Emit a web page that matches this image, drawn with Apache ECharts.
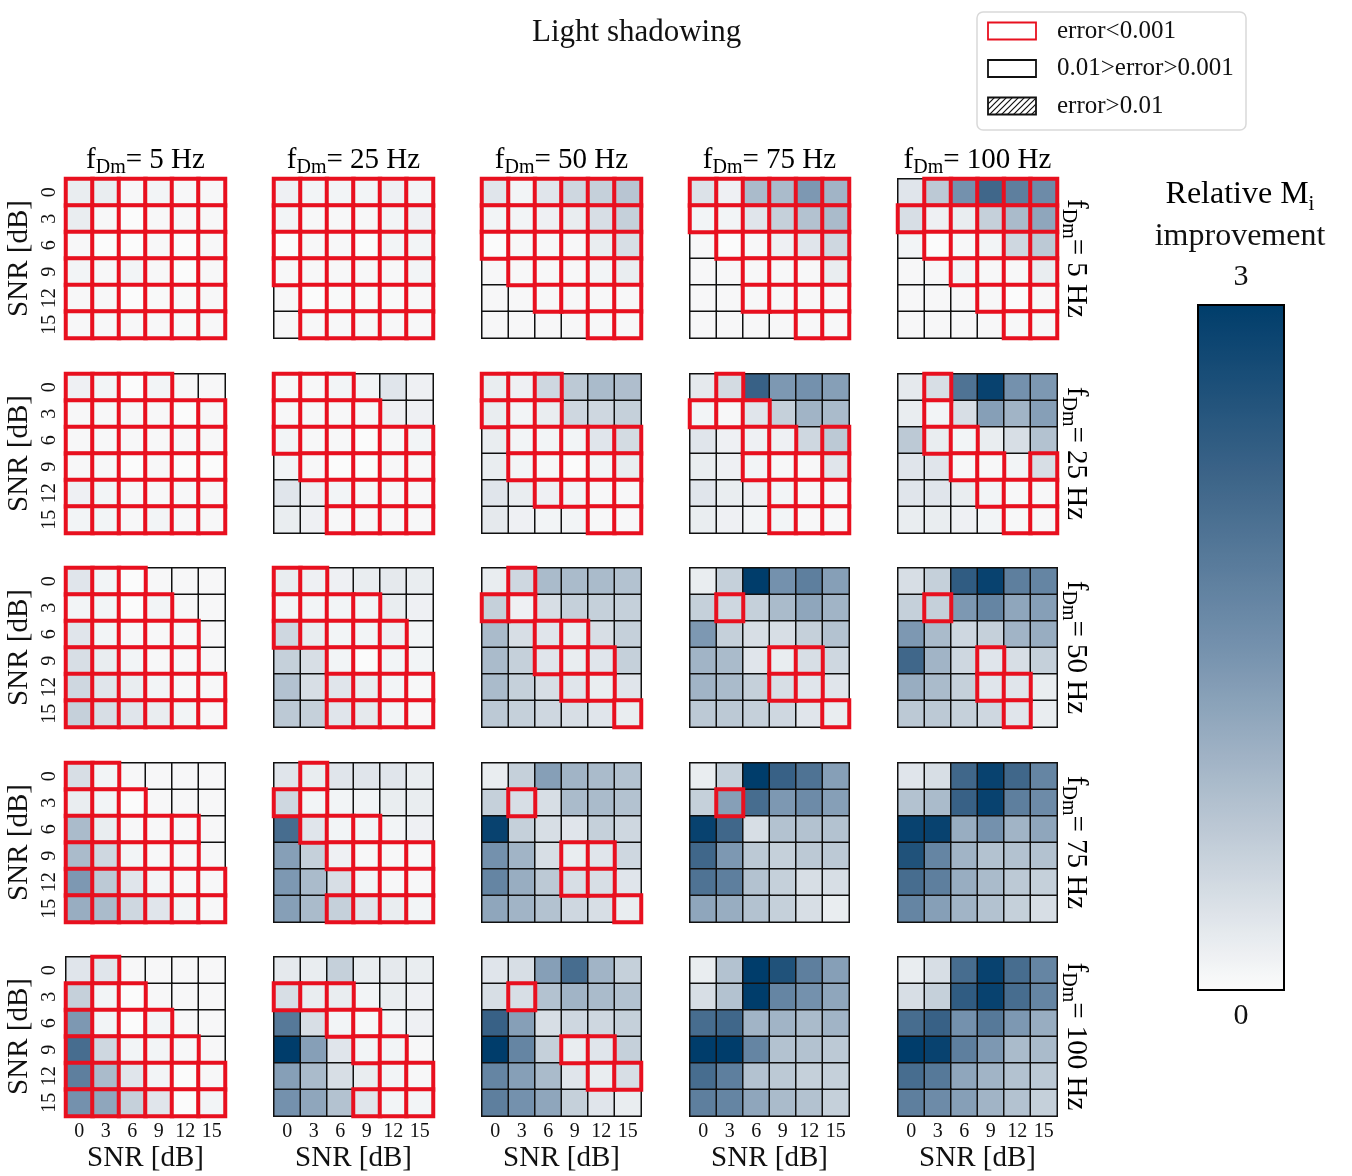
<!DOCTYPE html>
<html>
<head>
<meta charset="utf-8">
<title>Light shadowing</title>
<script src="https://cdn.jsdelivr.net/npm/echarts@6/dist/echarts.min.js"></script>
<style>
  html, body { margin: 0; padding: 0; background: #fff; }
  #main { width: 1352px; height: 1176px; }
</style>
</head>
<body>
<div id="main"></div>
<script>
// SNR tick labels (both axes) and Doppler frequencies of rows / columns
var snrLabels = ['0', '3', '6', '9', '12', '15'];
var fdmList = [5, 25, 50, 75, 100];

// relative Mi improvement, imp_<row fDm>_<column fDm>, rows = SNR 0..15 (top->bottom)
var imp_5_5 = [
  [0.2, 0.2, 0.05, 0.1, 0.05, 0.05],
  [0.2, 0.05, 0, 0.05, 0.05, 0.05],
  [0.05, 0, 0, 0.05, 0, 0.05],
  [0.1, 0.05, 0.1, 0.05, 0, 0.05],
  [0.05, 0.05, 0, 0.03, 0.03, 0.05],
  [0.05, 0.05, 0.05, 0.05, 0.03, 0.05]];
var imp_5_25 = [
  [0.15, 0.1, 0.1, 0.1, 0.15, 0.1],
  [0.1, 0.05, 0.05, 0.05, 0.1, 0.15],
  [0, 0.05, 0.05, 0, 0.1, 0.1],
  [0.05, 0.05, 0.05, 0.05, 0.05, 0.1],
  [0.05, 0, 0.03, 0.03, 0.03, 0.05],
  [0.05, 0.05, 0.05, 0.05, 0.05, 0.05]];
var imp_5_50 = [
  [0.3, 0.1, 0.3, 0.5, 0.6, 0.75],
  [0.1, 0.1, 0.15, 0.2, 0.4, 0.6],
  [0, 0.05, 0.05, 0.05, 0.2, 0.4],
  [0.05, 0.05, 0.05, 0.05, 0.1, 0.2],
  [0.05, 0.05, 0.05, 0.05, 0.05, 0.05],
  [0.05, 0.05, 0.05, 0.05, 0.05, 0.05]];
var imp_5_75 = [
  [0.35, 0.15, 0.9, 0.9, 1.4, 1.0],
  [0.1, 0.1, 0.3, 0.6, 0.8, 0.9],
  [0.05, 0, 0.05, 0.15, 0.3, 0.5],
  [0.05, 0.05, 0.05, 0.05, 0.05, 0.2],
  [0.05, 0.05, 0.05, 0.05, 0.05, 0.05],
  [0.05, 0.05, 0.05, 0.05, 0.05, 0.05]];
var imp_5_100 = [
  [0.3, 0.7, 1.5, 2.2, 1.8, 1.6],
  [0.4, 0.15, 0.2, 0.6, 0.9, 1.2],
  [0.1, 0, 0.05, 0.1, 0.5, 0.7],
  [0.05, 0.05, 0.1, 0.05, 0.05, 0.2],
  [0.05, 0.05, 0.05, 0.05, 0, 0.05],
  [0.05, 0.05, 0.05, 0.05, 0.05, 0.05]];

var imp_25_5 = [
  [0.15, 0.1, 0, 0.1, 0.05, 0.05],
  [0.05, 0.05, 0.05, 0.05, 0, 0.05],
  [0.05, 0.05, 0.05, 0.05, 0.05, 0.05],
  [0.05, 0.05, 0, 0.05, 0, 0],
  [0.15, 0.1, 0.05, 0.05, 0.05, 0.05],
  [0.1, 0.1, 0.05, 0.1, 0.05, 0.05]];
var imp_25_25 = [
  [0.05, 0.05, 0.1, 0.1, 0.3, 0.15],
  [0.05, 0.05, 0.05, 0.05, 0.15, 0.15],
  [0.1, 0.05, 0.05, 0, 0.05, 0.1],
  [0.1, 0.05, 0, 0, 0.05, 0.05],
  [0.3, 0.15, 0.1, 0.05, 0.05, 0.05],
  [0.2, 0.15, 0.05, 0.05, 0.05, 0.05]];
var imp_25_50 = [
  [0.2, 0.15, 0.5, 0.7, 0.9, 0.85],
  [0.2, 0.1, 0.2, 0.5, 0.5, 0.6],
  [0.2, 0.1, 0.1, 0.1, 0.3, 0.45],
  [0.2, 0.1, 0.05, 0, 0.1, 0.2],
  [0.3, 0.2, 0.15, 0.1, 0.05, 0.05],
  [0.25, 0.15, 0.1, 0.1, 0.05, 0.05]];
var imp_25_75 = [
  [0.25, 0.45, 2.3, 1.4, 1.5, 1.3],
  [0.1, 0.05, 0.3, 0.6, 1.0, 0.9],
  [0.3, 0.15, 0.15, 0.15, 0.5, 0.7],
  [0.2, 0.15, 0.1, 0.05, 0.05, 0.3],
  [0.3, 0.2, 0.15, 0.1, 0.05, 0.05],
  [0.2, 0.15, 0.1, 0.1, 0.05, 0.05]];
var imp_25_100 = [
  [0.25, 0.4, 2.0, 2.9, 1.5, 1.4],
  [0.2, 0.1, 0.4, 1.3, 1.0, 1.3],
  [0.7, 0.2, 0.1, 0.2, 0.4, 0.8],
  [0.3, 0.3, 0.05, 0.05, 0.1, 0.4],
  [0.3, 0.3, 0.2, 0.1, 0.05, 0.05],
  [0.2, 0.2, 0.15, 0.1, 0.05, 0.05]];

var imp_50_5 = [
  [0.3, 0.1, 0, 0.05, 0.05, 0.05],
  [0.1, 0.1, 0, 0.1, 0.05, 0.05],
  [0.3, 0.1, 0.05, 0.05, 0.05, 0.05],
  [0.4, 0.2, 0.1, 0.05, 0.05, 0.05],
  [0.5, 0.3, 0.2, 0.1, 0.05, 0.05],
  [0.6, 0.4, 0.3, 0.2, 0.1, 0.05]];
var imp_50_25 = [
  [0.2, 0.15, 0.15, 0.2, 0.25, 0.2],
  [0.1, 0.1, 0.1, 0.1, 0.2, 0.15],
  [0.5, 0.2, 0.1, 0.1, 0.15, 0.1],
  [0.6, 0.4, 0.1, 0, 0.1, 0.1],
  [0.8, 0.4, 0.3, 0.2, 0.1, 0.05],
  [0.7, 0.6, 0.3, 0.25, 0.1, 0.05]];
var imp_50_50 = [
  [0.2, 0.5, 0.9, 0.9, 0.9, 0.8],
  [0.6, 0.15, 0.4, 0.6, 0.6, 0.6],
  [0.9, 0.4, 0.3, 0.2, 0.4, 0.6],
  [0.9, 0.6, 0.3, 0.2, 0.3, 0.6],
  [0.9, 0.6, 0.4, 0.3, 0.2, 0.3],
  [0.7, 0.6, 0.5, 0.4, 0.3, 0.2]];
var imp_50_75 = [
  [0.2, 0.6, 3.0, 1.5, 1.8, 1.3],
  [0.6, 0.5, 0.6, 0.9, 1.2, 1.0],
  [1.4, 0.6, 0.4, 0.4, 0.6, 0.8],
  [1.0, 0.9, 0.3, 0.2, 0.4, 0.5],
  [1.0, 0.9, 0.6, 0.4, 0.3, 0.3],
  [0.7, 0.7, 0.6, 0.5, 0.3, 0.2]];
var imp_50_100 = [
  [0.4, 0.6, 2.4, 2.9, 1.8, 1.7],
  [0.6, 0.6, 1.4, 1.7, 1.2, 1.3],
  [1.4, 0.9, 0.5, 0.6, 1.0, 1.1],
  [2.2, 1.0, 0.5, 0.3, 0.4, 0.6],
  [1.1, 0.9, 0.6, 0.3, 0.3, 0.2],
  [0.7, 0.7, 0.6, 0.5, 0.3, 0.2]];

var imp_75_5 = [
  [0.4, 0.1, 0.05, 0.05, 0.05, 0.05],
  [0.2, 0.1, 0, 0.05, 0.05, 0.05],
  [0.9, 0.2, 0.05, 0.05, 0.05, 0.05],
  [0.9, 0.5, 0.1, 0.05, 0.05, 0.05],
  [1.4, 0.7, 0.3, 0.1, 0.05, 0.05],
  [1.1, 0.9, 0.5, 0.3, 0.1, 0.05]];
var imp_75_25 = [
  [0.3, 0.2, 0.3, 0.3, 0.3, 0.2],
  [0.5, 0.1, 0.1, 0.1, 0.2, 0.2],
  [2.1, 0.3, 0.1, 0.1, 0.1, 0.15],
  [1.3, 0.6, 0.15, 0.05, 0.05, 0.05],
  [1.4, 0.9, 0.4, 0.1, 0.05, 0.05],
  [1.3, 0.9, 0.6, 0.3, 0.2, 0.1]];
var imp_75_50 = [
  [0.2, 0.6, 1.3, 1.0, 0.9, 0.8],
  [0.6, 0.4, 0.4, 0.9, 0.9, 0.8],
  [2.9, 0.6, 0.4, 0.3, 0.6, 0.5],
  [1.5, 1.0, 0.4, 0.2, 0.3, 0.5],
  [1.7, 1.1, 0.7, 0.4, 0.4, 0.3],
  [1.2, 1.0, 0.8, 0.5, 0.4, 0.2]];
var imp_75_75 = [
  [0.2, 0.6, 3.0, 2.3, 2.0, 1.3],
  [0.6, 1.3, 2.1, 1.4, 1.6, 1.3],
  [2.9, 2.2, 0.4, 0.8, 0.8, 0.8],
  [2.2, 1.4, 0.7, 0.6, 0.7, 0.7],
  [2.0, 1.8, 0.8, 0.6, 0.4, 0.4],
  [1.2, 1.1, 0.8, 0.6, 0.4, 0.2]];
var imp_75_100 = [
  [0.3, 0.4, 2.2, 2.9, 2.2, 1.7],
  [0.8, 0.9, 2.3, 2.9, 1.8, 1.6],
  [2.9, 2.9, 1.1, 1.5, 1.0, 1.2],
  [2.6, 1.7, 1.0, 0.8, 0.8, 0.8],
  [2.1, 1.8, 1.1, 0.9, 0.7, 0.6],
  [1.7, 1.3, 1.0, 0.8, 0.6, 0.4]];

var imp_100_5 = [
  [0.3, 0.3, 0.05, 0.05, 0.05, 0.05],
  [0.6, 0.1, 0, 0.05, 0.05, 0.05],
  [1.4, 0.1, 0, 0.1, 0.05, 0.05],
  [2.1, 0.5, 0.1, 0.1, 0.05, 0.05],
  [1.8, 0.9, 0.3, 0.1, 0, 0.05],
  [1.5, 1.2, 0.6, 0.3, 0, 0.1]];
var imp_100_25 = [
  [0.25, 0.2, 0.6, 0.2, 0.25, 0.2],
  [0.4, 0.2, 0.2, 0.1, 0.2, 0.15],
  [1.9, 0.4, 0.1, 0.05, 0.1, 0.15],
  [3.0, 1.3, 0.3, 0.1, 0.1, 0.05],
  [1.3, 0.9, 0.4, 0.2, 0.1, 0.05],
  [1.5, 1.2, 0.8, 0.3, 0.1, 0.1]];
var imp_100_50 = [
  [0.3, 0.4, 1.3, 2.1, 1.0, 0.6],
  [0.4, 0.4, 0.8, 1.0, 0.9, 0.8],
  [2.3, 1.3, 0.4, 0.5, 0.5, 0.6],
  [3.0, 1.7, 0.6, 0.2, 0.3, 0.6],
  [1.7, 1.3, 0.9, 0.3, 0.2, 0.4],
  [1.8, 1.5, 1.2, 0.6, 0.3, 0.2]];
var imp_100_75 = [
  [0.2, 0.8, 3.0, 2.6, 1.8, 1.3],
  [0.4, 0.8, 3.0, 1.7, 1.5, 1.2],
  [2.1, 2.2, 1.0, 1.0, 0.9, 1.0],
  [3.0, 3.0, 1.7, 0.8, 0.8, 0.7],
  [2.1, 1.8, 0.8, 0.7, 0.6, 0.6],
  [1.8, 1.7, 1.2, 0.9, 0.8, 0.6]];
var imp_100_100 = [
  [0.2, 0.4, 2.1, 2.9, 2.1, 1.7],
  [0.4, 0.6, 2.4, 2.9, 2.1, 1.7],
  [2.1, 2.3, 1.5, 1.9, 1.4, 1.1],
  [3.0, 2.9, 1.8, 1.4, 0.9, 0.9],
  [2.1, 1.9, 1.2, 1.0, 0.8, 0.7],
  [1.8, 1.6, 1.3, 1.0, 0.8, 0.6]];

// cells with error < 0.001 (red frame), '1' = red, per SNR row
var red_5_5 = ['111111', '111111', '111111', '111111', '111111', '111111'];
var red_5_25 = ['111111', '111111', '111111', '111111', '011111', '011111'];
var red_5_50 = ['111111', '111111', '111111', '011111', '001111', '000011'];
var red_5_75 = ['111111', '111111', '011111', '001111', '001111', '000011'];
var red_5_100 = ['011111', '111111', '011111', '001111', '000111', '000011'];

var red_25_5 = ['111100', '111111', '111111', '111111', '111111', '111111'];
var red_25_25 = ['111000', '111100', '111111', '011111', '001111', '001111'];
var red_25_50 = ['111000', '111000', '011111', '011111', '001111', '000011'];
var red_25_75 = ['010000', '111000', '001101', '001111', '000111', '000111'];
var red_25_100 = ['010000', '010000', '011000', '001101', '000111', '000011'];

var red_50_5 = ['111000', '111100', '111110', '111110', '111111', '111111'];
var red_50_25 = ['110000', '111100', '111110', '001110', '001111', '001111'];
var red_50_50 = ['010000', '110000', '001100', '001110', '000110', '000001'];
var red_50_75 = ['000000', '010000', '000000', '000110', '000110', '000001'];
var red_50_100 = ['000000', '010000', '000000', '000100', '000110', '000010'];

var red_75_5 = ['110000', '111000', '111110', '111110', '111111', '111111'];
var red_75_25 = ['010000', '110000', '011100', '001111', '000111', '001111'];
var red_75_50 = ['000000', '010000', '000000', '000110', '000110', '000001'];
var red_75_75 = ['000000', '010000', '000000', '000000', '000000', '000000'];
var red_75_100 = ['000000', '000000', '000000', '000000', '000000', '000000'];

var red_100_5 = ['010000', '111000', '111100', '111110', '111111', '111111'];
var red_100_25 = ['000000', '111000', '001100', '000110', '000011', '000111'];
var red_100_50 = ['000000', '010000', '000000', '000110', '000011', '000000'];
var red_100_75 = ['000000', '000000', '000000', '000000', '000000', '000000'];
var red_100_100 = ['000000', '000000', '000000', '000000', '000000', '000000'];

(function () {
  var myChart = echarts.init(document.getElementById('main'));
  var FONT = 'Liberation Serif';
  var INK = '#111';
  var RED = '#e8101f';

  var panels = [
    [imp_5_5, imp_5_25, imp_5_50, imp_5_75, imp_5_100],
    [imp_25_5, imp_25_25, imp_25_50, imp_25_75, imp_25_100],
    [imp_50_5, imp_50_25, imp_50_50, imp_50_75, imp_50_100],
    [imp_75_5, imp_75_25, imp_75_50, imp_75_75, imp_75_100],
    [imp_100_5, imp_100_25, imp_100_50, imp_100_75, imp_100_100]
  ];
  var masks = [
    [red_5_5, red_5_25, red_5_50, red_5_75, red_5_100],
    [red_25_5, red_25_25, red_25_50, red_25_75, red_25_100],
    [red_50_5, red_50_25, red_50_50, red_50_75, red_50_100],
    [red_75_5, red_75_25, red_75_50, red_75_75, red_75_100],
    [red_100_5, red_100_25, red_100_50, red_100_75, red_100_100]
  ];

  var colX = [66, 274, 482, 690, 898];
  var rowY = [179, 374, 568, 763, 957];
  var size = 159;

  var grid = [], xAxis = [], yAxis = [], series = [], seriesIdx = [];

  for (var r = 0; r < 5; r++) {
    for (var c = 0; c < 5; c++) {
      var k = r * 5 + c;
      grid.push({ left: colX[c], top: rowY[r], width: size, height: size });
      xAxis.push({
        type: 'category', gridIndex: k, data: snrLabels,
        axisLine: { show: false }, axisTick: { show: false }, splitLine: { show: false },
        axisLabel: { show: r === 4, fontFamily: FONT, fontSize: 20, color: INK, margin: 6 },
        name: r === 4 ? 'SNR [dB]' : '', nameLocation: 'middle', nameGap: 28,
        nameTextStyle: { fontFamily: FONT, fontSize: 29, color: INK }
      });
      yAxis.push({
        type: 'category', gridIndex: k, data: snrLabels, inverse: true,
        axisLine: { show: false }, axisTick: { show: false }, splitLine: { show: false },
        axisLabel: { show: c === 0, rotate: 90, fontFamily: FONT, fontSize: 20, color: INK, margin: 6 },
        name: c === 0 ? 'SNR [dB]' : '', nameLocation: 'middle', nameRotate: 90, nameGap: 32,
        nameTextStyle: { fontFamily: FONT, fontSize: 29, color: INK }
      });

      var vals = panels[r][c], mask = masks[r][c];
      var all = [], redCells = [];
      for (var i = 0; i < 6; i++) {
        for (var j = 0; j < 6; j++) {
          all.push([j, i, vals[i][j]]);
          if (mask[i].charAt(j) === '1') redCells.push([j, i, vals[i][j]]);
        }
      }
      series.push({
        type: 'heatmap', xAxisIndex: k, yAxisIndex: k, data: all,
        itemStyle: { borderColor: INK, borderWidth: 1.5 },
        emphasis: { disabled: true }, z: 2
      });
      series.push({
        type: 'heatmap', xAxisIndex: k, yAxisIndex: k, data: redCells,
        itemStyle: { borderColor: RED, borderWidth: 4 },
        emphasis: { disabled: true }, z: 3
      });
      seriesIdx.push(series.length - 2, series.length - 1);
    }
  }

  // hatch pattern for the "error>0.01" legend patch
  var pc = document.createElement('canvas');
  pc.width = 6; pc.height = 6;
  var pctx = pc.getContext('2d');
  pctx.strokeStyle = INK; pctx.lineWidth = 1.2;
  pctx.beginPath();
  pctx.moveTo(0, 6); pctx.lineTo(6, 0);
  pctx.moveTo(-1, 1); pctx.lineTo(1, -1);
  pctx.moveTo(5, 7); pctx.lineTo(7, 5);
  pctx.stroke();

  var subRich = {
    a: { fontFamily: FONT, fontSize: 29, color: INK, lineHeight: 36, verticalAlign: 'middle' },
    s: { fontFamily: FONT, fontSize: 20, color: INK, lineHeight: 36, verticalAlign: 'bottom' }
  };

  var graphic = [];
  fdmList.forEach(function (f, c) {
    graphic.push({
      type: 'text', x: colX[c] + size / 2, y: 160,
      style: { text: '{a|f}{s|Dm}{a|= ' + f + ' Hz}', rich: subRich, textAlign: 'center', textVerticalAlign: 'middle' }
    });
  });
  fdmList.forEach(function (f, r) {
    graphic.push({
      type: 'text', x: 1076, y: rowY[r] + size / 2, rotation: -Math.PI / 2,
      style: { text: '{a|f}{s|Dm}{a|= ' + f + ' Hz}', rich: subRich, textAlign: 'center', textVerticalAlign: 'middle' }
    });
  });

  // colorbar caption and frame
  graphic.push({
    type: 'text', x: 1240, y: 195,
    style: {
      text: '{a|Relative M}{s|i}', textAlign: 'center', textVerticalAlign: 'middle',
      rich: {
        a: { fontFamily: FONT, fontSize: 32, color: INK, lineHeight: 40, verticalAlign: 'middle' },
        s: { fontFamily: FONT, fontSize: 21, color: INK, lineHeight: 40, verticalAlign: 'bottom' }
      }
    }
  });
  graphic.push({
    type: 'text', x: 1240, y: 237,
    style: { text: 'improvement', fontFamily: FONT, fontSize: 32, fill: INK, textAlign: 'center', textVerticalAlign: 'middle' }
  });
  graphic.push({
    type: 'rect', z: 100, silent: true,
    shape: { x: 1198, y: 305, width: 86, height: 685 },
    style: { fill: 'none', stroke: '#000', lineWidth: 2 }
  });

  // legend box
  var legendItems = [
    { label: 'error<0.001', stroke: RED, fill: '#fff' },
    { label: '0.01>error>0.001', stroke: INK, fill: '#fff' },
    { label: 'error>0.01', stroke: INK, fill: { image: pc, repeat: 'repeat' } }
  ];
  graphic.push({
    type: 'rect', shape: { x: 977, y: 12, width: 269, height: 118, r: 6 },
    style: { fill: '#fff', stroke: '#d9d9d9', lineWidth: 1.5 }
  });
  legendItems.forEach(function (it, i) {
    var cy = 31 + i * 37.5;
    graphic.push({
      type: 'rect', shape: { x: 988, y: cy - 8.5, width: 48, height: 17 },
      style: { fill: it.fill, stroke: it.stroke, lineWidth: 1.8 }
    });
    graphic.push({
      type: 'text', x: 1057, y: cy,
      style: { text: it.label, fontFamily: FONT, fontSize: 25, fill: INK, textVerticalAlign: 'middle' }
    });
  });

  myChart.setOption({
    animation: false,
    title: {
      text: 'Light shadowing', left: 527, top: 12,
      textStyle: { fontFamily: FONT, fontSize: 31, fontWeight: 'normal', color: INK }
    },
    grid: grid,
    xAxis: xAxis,
    yAxis: yAxis,
    visualMap: {
      type: 'continuous', min: 0, max: 3, seriesIndex: seriesIdx,
      calculable: false, hoverLink: false, orient: 'vertical',
      left: 1198, top: 262, padding: 0,
      itemWidth: 86, itemHeight: 685, text: ['3', '0'], textGap: 12,
      textStyle: { fontFamily: FONT, fontSize: 30, color: INK },
      inRange: { color: ['#fbfbfb', '#b8c5d2', '#7491ad', '#3c6488', '#003d6b'] }
    },
    graphic: graphic,
    series: series
  });

  window.addEventListener('resize', function () {
    myChart.resize();
  });
})();
</script>
</body>
</html>
